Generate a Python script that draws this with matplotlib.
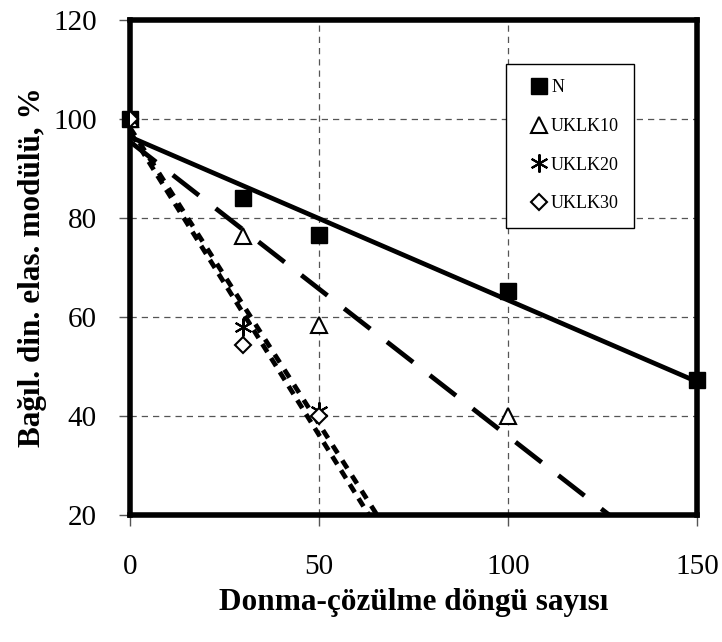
import numpy as np
import matplotlib
matplotlib.use("Agg")
import matplotlib.pyplot as plt

plt.rcParams['font.family'] = ['Liberation Serif', 'DejaVu Serif']

cycles_N = [0, 30, 50, 100, 150]
vals_N = [100, 84, 76.5, 65.3, 47.3]
cycles_10 = [0, 30, 50, 100]
vals_10 = [100, 76.3, 58.3, 40]
cycles_20 = [0, 30, 50]
vals_20 = [100, 58, 41]
cycles_30 = [0, 30, 50]
vals_30 = [100, 54.3, 40]
labels = ['N', 'UKLK10', 'UKLK20', 'UKLK30']
xticks = [0, 50, 100, 150]
yticks = [20, 40, 60, 80, 100, 120]

fig = plt.figure(figsize=(7.22, 6.42), dpi=100)
ax = fig.add_axes([130/722, 1-515/642, (697-130)/722, (515-20)/642])
ax.set_xlim(0, 150)
ax.set_ylim(20, 120)

ax.grid(True, color='#555555', linestyle=(0, (5, 4)), linewidth=0.9)
ax.set_axisbelow(True)

xx = np.linspace(0, 150, 400)
styles = ['-', (0, (7, 4.5)), (0, (2.0, 1.8)), (3, (2.0, 1.5))]
data = [(cycles_N, vals_N), (cycles_10, vals_10), (cycles_20, vals_20), (cycles_30, vals_30)]
for (cx, vy), ls in zip(data, styles):
    k, b = np.polyfit(cx, vy, 1)
    ax.plot(xx, k * xx + b, color='black', linewidth=3.4, linestyle=ls,
            solid_capstyle='butt', dash_capstyle='butt', zorder=2)

ax.plot(cycles_N, vals_N, linestyle='none', marker='s', markersize=11, color='black',
        label=labels[0], zorder=4, clip_on=False)
ax.plot(cycles_10, vals_10, linestyle='none', marker='^', markersize=11, markerfacecolor='white',
        markeredgecolor='black', markeredgewidth=1.5, label=labels[1], zorder=4)
ax.plot(cycles_20, vals_20, linestyle='none', marker=(6, 2, 0), markersize=13, color='black',
        markeredgewidth=1.5, label=labels[2], zorder=4)
ax.plot(cycles_30, vals_30, linestyle='none', marker='D', markersize=8, markerfacecolor='white',
        markeredgecolor='black', markeredgewidth=1.5, label=labels[3], zorder=4)

for s in ax.spines.values():
    s.set_linewidth(4)
    s.set_color('black')

ax.set_xticks(xticks)
ax.set_yticks(yticks)
ax.tick_params(direction='out', length=8, width=1, color='#555555', labelsize=21, pad=16)
ax.tick_params(axis='x', pad=20)

ax.set_xlabel('Donma-çözülme döngü sayısı', fontsize=22.5, fontweight='bold', labelpad=6)
ax.set_ylabel('Bağıl. din. elas. modülü, %', fontsize=22.5, fontweight='bold', labelpad=4)

leg = ax.legend(loc='upper left', bbox_to_anchor=((506-130)/567, 1-(64-20)/495), fontsize=13,
                frameon=True, fancybox=False, edgecolor='black', framealpha=1,
                handlelength=1.95, handletextpad=-0.3, labelspacing=1.2, borderpad=0.85,
                borderaxespad=0)
leg.get_frame().set_linewidth(1.0)

fig.savefig('out.png', dpi=100)
